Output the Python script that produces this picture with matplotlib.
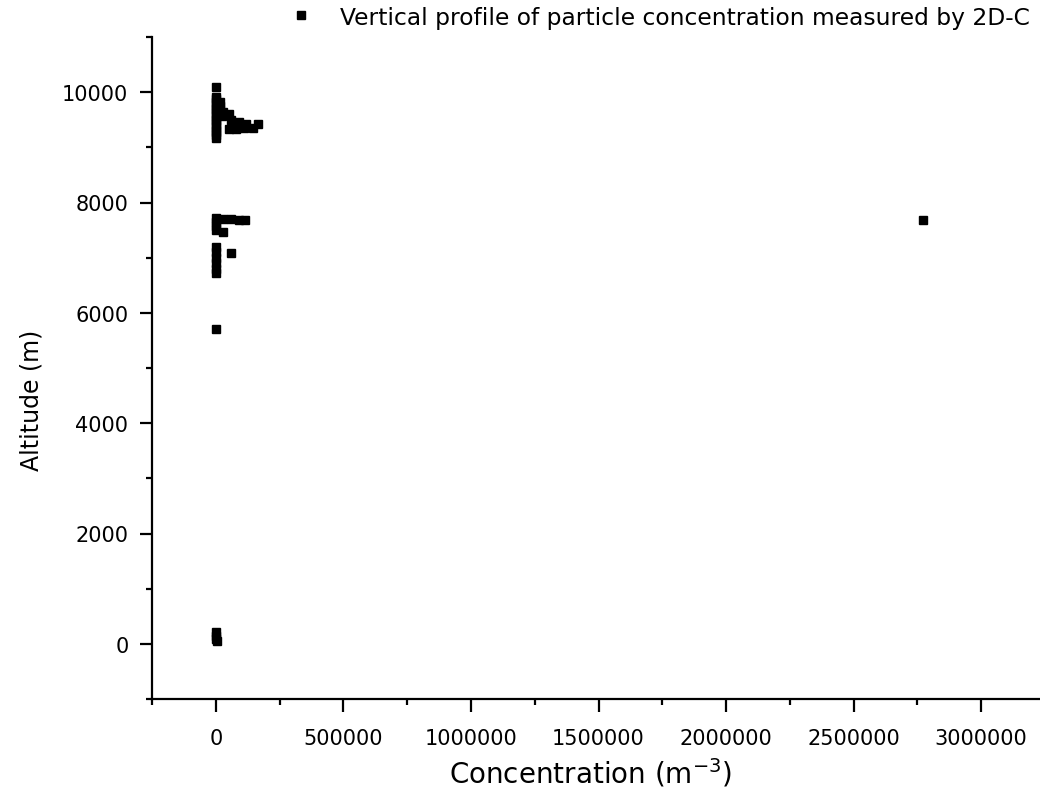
import matplotlib
matplotlib.use("Agg")
import matplotlib.pyplot as plt
from matplotlib.ticker import MultipleLocator, StrMethodFormatter

# concentration (m^-3) and altitude (m)
conc = [0, 0, 0, 0, 0, 0, 0, 0, 0, 0, 0, 0, 0, 0, 0, 0, 0,
        15000, 15000, 15000,
        30000, 50000, 25000,
        60000, 90000, 120000, 166000,
        50000, 80000, 110000, 145000,
        0, 0, 0, 0,
        30000, 60000, 90000, 115000,
        28000,
        0, 0, 0, 0, 0, 0,
        58000,
        0,
        0, 0, 0, 5000,
        2770000]
altitude = [10100, 9920, 9870, 9820, 9770, 9720, 9670, 9620, 9570, 9520, 9470, 9420, 9370, 9320, 9270, 9220, 9170,
            9830, 9750, 9680,
            9640, 9600, 9560,
            9500, 9460, 9430, 9430,
            9340, 9330, 9350, 9350,
            7720, 7650, 7580, 7510,
            7700, 7700, 7690, 7675,
            7460,
            7200, 7100, 7000, 6900, 6800, 6730,
            7090,
            5700,
            220, 150, 80, 60,
            7690]

plt.rcParams["font.family"] = "DejaVu Sans"

fig = plt.figure(figsize=(10.4, 8.12), dpi=100)
ax = fig.add_axes([152 / 1040, 1 - 700 / 812, (1045 - 152) / 1040, (700 - 38) / 812])

ax.plot(conc, altitude, linestyle="none", marker="s", markersize=6.2, color="black",
        label="Vertical profile of particle concentration measured by 2D-C")

ax.set_xlim(-250000, 3250000)
ax.set_ylim(-1000, 11000)
ax.xaxis.set_major_locator(MultipleLocator(500000))
ax.xaxis.set_minor_locator(MultipleLocator(250000))
ax.yaxis.set_major_locator(MultipleLocator(2000))
ax.yaxis.set_minor_locator(MultipleLocator(1000))
ax.xaxis.set_major_formatter(StrMethodFormatter("{x:.0f}"))
ax.yaxis.set_major_formatter(StrMethodFormatter("{x:.0f}"))

ax.spines["top"].set_visible(False)
ax.spines["right"].set_visible(False)
ax.spines["left"].set_linewidth(1.6)
ax.spines["bottom"].set_linewidth(1.6)
ax.tick_params(which="major", length=9, width=1.6, labelsize=15)
ax.tick_params(which="minor", length=4.5, width=1.6)
ax.tick_params(axis="x", which="major", pad=12)
ax.tick_params(axis="y", which="major", pad=8)

ax.set_xlabel(r"Concentration (m$^{-3}$)", fontsize=20)
ax.set_ylabel("Altitude (m)", fontsize=17)
ax.xaxis.set_label_coords((591 - 152) / 893, -(757 - 700) / 662)
ax.yaxis.set_label_coords(-(152 - 44) / 893, 0.453)

fig.legend(loc="center left", bbox_to_anchor=(275 / 1040, 1 - 18 / 812), frameon=False,
           fontsize=16.8, handlelength=1.2, handletextpad=1.1, borderpad=0, markerscale=0.85)

fig.savefig("out.png", dpi=100)
